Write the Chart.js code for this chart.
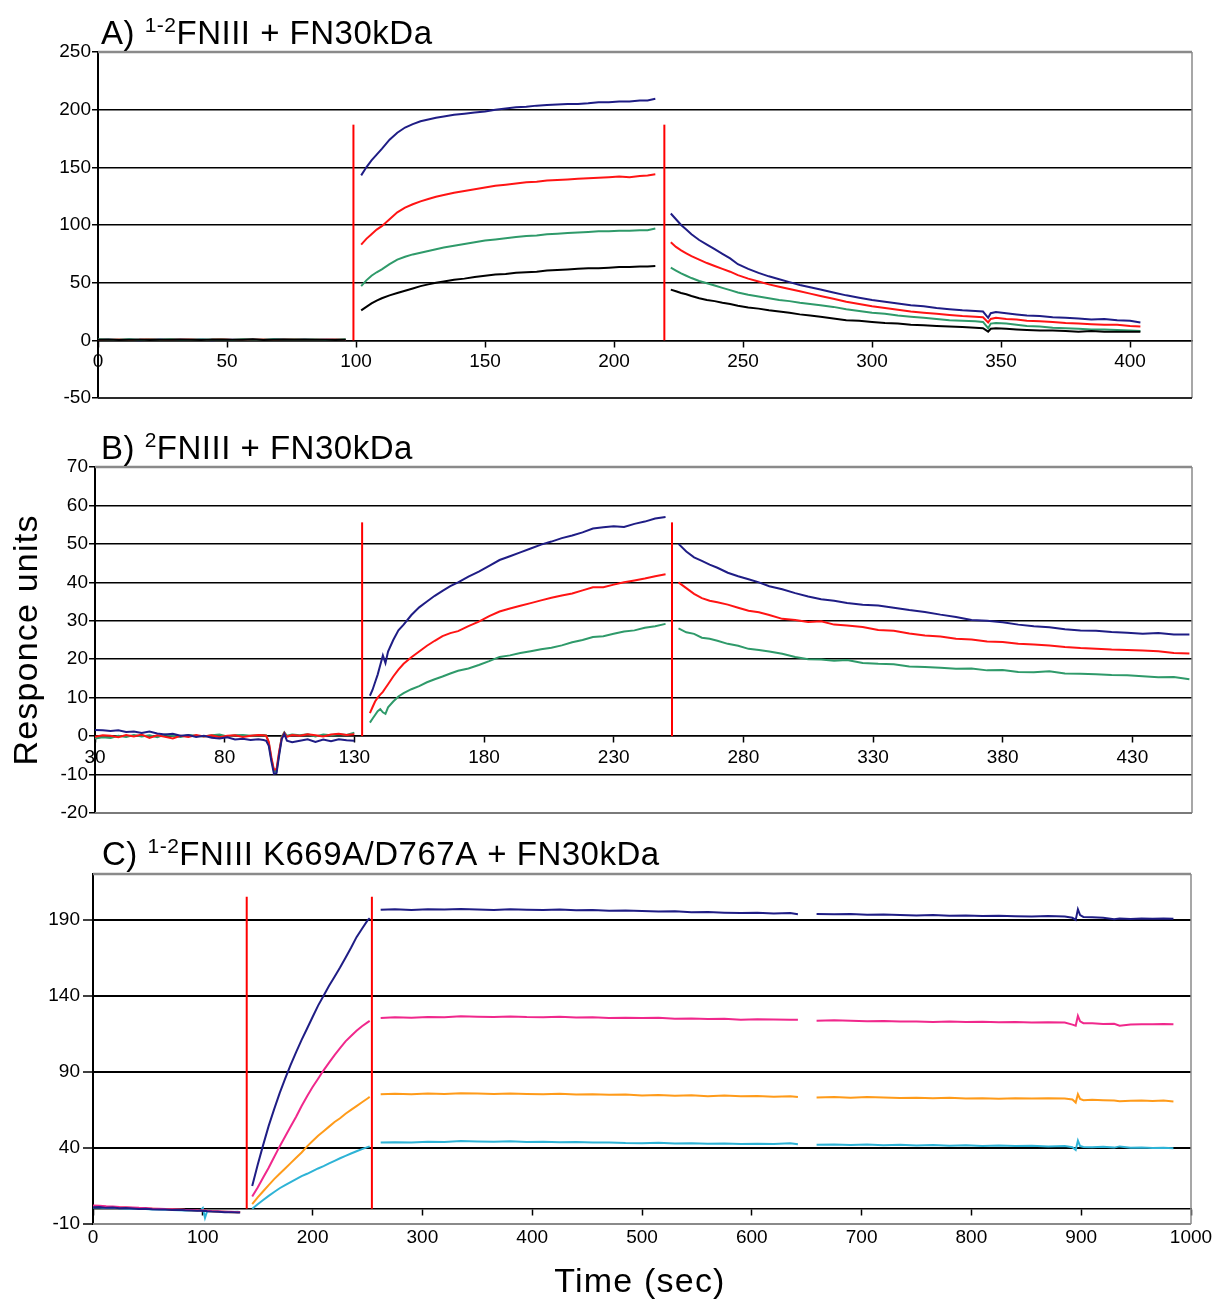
<!DOCTYPE html>
<html>
<head>
<meta charset="utf-8">
<title>FNIII binding to FN30kDa</title>
<script src="https://cdn.jsdelivr.net/npm/chart.js@4.4.1/dist/chart.umd.min.js"></script>
<style>
  html, body { margin: 0; padding: 0; background: #fff; }
  #wrap { position: relative; width: 1215px; height: 1300px; }
  canvas { position: absolute; left: 0; }
  #panelA { top: 0; }
  #panelB { top: 410px; }
  #panelC { top: 820px; }
</style>
</head>
<body>
<div id="wrap">
  <canvas id="panelA" width="1215" height="410"></canvas>
  <canvas id="panelB" width="1215" height="410"></canvas>
  <canvas id="panelC" width="1215" height="480"></canvas>
</div>
<script>
// ---------- panel A: 1-2FNIII + FN30kDa ----------
const aXTicks = [0, 50, 100, 150, 200, 250, 300, 350, 400];
const aYTicks = [-50, 0, 50, 100, 150, 200, 250];
const aMarks = [99, 219.5];
const aMarkTop = 187;

const aTimeBase = [0, 4, 8, 12, 16, 20, 24, 28, 32, 36, 40, 44, 48, 52, 56, 60, 64, 68, 72, 76, 80, 84, 88, 92, 96];
const aBlueBase  = [0.3, 0.5, 0.2, 0.6, 0.1, 0.4, 0.7, 0.2, 0.5, 0.3, 0.8, 0.1, 0.4, 0.6, 0.2, 0.5, 0.3, 0.7, 0.4, 0.2, 0.6, 0.3, 0.5, 0.4, 0.2];
const aRedBase   = [0.6, 0.2, 0.8, 0.3, 0.5, 0.9, 0.2, 0.6, 0.4, 0.7, 0.3, 0.5, 0.9, 0.2, 0.6, 0.4, 0.8, 0.3, 0.5, 0.7, 0.2, 0.6, 0.4, 0.8, 0.5];
const aGreenBase = [0.9, 0.4, 0.6, 1.0, 0.3, 0.7, 0.5, 0.9, 0.2, 0.6, 0.8, 0.4, 0.7, 0.3, 0.9, 0.5, 0.6, 1.0, 0.4, 0.7, 0.5, 0.8, 0.3, 0.6, 0.9];
const aBlackBase = [0.4, 0.7, 0.3, 0.5, 0.8, 0.2, 0.6, 0.4, 0.7, 0.5, 0.3, 0.8, 0.5, 0.4, 0.6, 0.9, 0.3, 0.5, 0.7, 0.4, 0.8, 0.5, 0.6, 0.3, 0.5];

const aTimeBind = [102, 104, 106, 108, 110, 113, 116, 119, 122, 125, 128, 131, 134, 138, 142, 146, 150, 154, 158, 162, 166, 170, 174, 178, 182, 186, 190, 194, 198, 202, 206, 210, 213, 216];
const aBlueBind  = [143, 150, 156, 161, 166, 174, 180, 184.5, 187.5, 190, 191.5, 193, 194, 195.5, 196.5, 197.5, 198.5, 200, 201, 202, 202.5, 203.5, 204, 204.5, 205, 205, 205.5, 206.5, 206.5, 207, 207, 208, 208, 209.5];
const aRedBind   = [83, 88, 92, 96, 99, 105, 111, 115, 118, 120.5, 122.5, 124.5, 126, 128, 129.5, 131, 132.5, 134, 135, 136, 137, 137.5, 138.5, 139, 139.5, 140, 140.5, 141, 141.5, 142, 141.5, 142.5, 143, 144];
const aGreenBind = [47, 52, 56, 59, 61.5, 66, 70, 72.5, 74.5, 76, 77.5, 79, 80.5, 82, 83.5, 85, 86.5, 87.5, 88.5, 89.5, 90.5, 91, 92, 92.5, 93, 93.5, 94, 94.5, 94.5, 95, 95, 95.5, 95.5, 97];
const aBlackBind = [26, 29, 32, 34.5, 36.5, 39, 41, 43, 45, 47, 48.5, 50, 51, 52.5, 53.5, 55, 56, 57, 57.5, 58.5, 59, 59.5, 60.5, 61, 61.5, 62, 62.5, 62.5, 63, 63.5, 63.5, 64, 64, 64.5];

const aTimeRel = [222, 224, 226, 228, 230, 233, 236, 239, 242, 245, 248, 252, 256, 260, 264, 268, 272, 276, 280, 285, 290, 295, 300, 305, 310, 315, 320, 325, 330, 335, 340, 343, 345, 346, 348, 352, 356, 360, 365, 370, 375, 380, 385, 390, 395, 400, 404];
const aBlueRel  = [110, 105, 100, 96, 92, 87, 83, 79, 75, 71, 66, 62, 58.5, 55.5, 53, 50.5, 48, 46, 44, 41.5, 39, 37, 35, 33.5, 32, 30.5, 29.5, 28, 27, 26, 25.5, 25, 19.5, 23.5, 24.5, 23.5, 22.5, 21.5, 21, 20, 19.5, 19, 18, 18.5, 17.5, 17, 15.5];
const aRedRel   = [85, 81, 78, 75.5, 73, 70, 67, 64.5, 62, 59.5, 56.5, 53.5, 51, 48.5, 46.5, 44.5, 42.5, 40.5, 38.5, 36, 33.5, 31.5, 29.5, 28, 26.5, 25, 24, 23, 22, 21, 20.5, 20, 15.5, 18.5, 19.5, 18.5, 18, 17, 16.5, 16, 15, 14.5, 14, 13.5, 13.5, 12.5, 12];
const aGreenRel = [63, 60.5, 58, 56, 54, 51.5, 49.5, 47.5, 45.5, 43.5, 41.5, 39.5, 38, 36.5, 35, 34, 32.5, 31.5, 30.5, 29, 27, 25.5, 24, 23, 21.5, 20.5, 19.5, 18.5, 17.5, 17, 16.5, 16, 10.5, 14.5, 15, 14.5, 13.5, 12.5, 12, 11, 10.5, 10, 9.5, 9.5, 9, 8.5, 8];
const aBlackRel = [44, 42.5, 41, 40, 38.5, 36.5, 35, 34, 32.5, 31.5, 30, 28.5, 27.5, 26, 25, 24, 22.5, 21.5, 20.5, 19, 17.5, 17, 16, 15, 14.5, 13.5, 13, 12.5, 12, 11.5, 11, 10.5, 7.5, 10, 10.5, 10, 9.5, 9, 8.5, 8.5, 8, 7.5, 8, 7.5, 7.5, 7.5, 7.5];

// ---------- panel B: 2FNIII + FN30kDa ----------
const bXTicks = [30, 80, 130, 180, 230, 280, 330, 380, 430];
const bYTicks = [-20, -10, 0, 10, 20, 30, 40, 50, 60, 70];
const bMarks = [133, 252.5];
const bMarkTop = 55.6;

const bTimeBase = [30, 33, 36, 39, 42, 45, 48, 51, 54, 57, 60, 63, 66, 69, 72, 75, 78, 81, 84, 87, 90, 93, 95, 96, 97, 98, 99, 100, 101, 102, 103, 104, 106, 109, 112, 115, 118, 121, 124, 127, 130];
const bBlueBase  = [1.6, 1.5, 1.3, 1.5, 1.1, 1.2, 0.8, 1.2, 0.7, 0.4, 0.6, 0.1, 0.3, -0.2, 0.1, -0.4, -0.6, -0.3, -0.9, -0.7, -1.0, -0.8, -1.0, -1.2, -2.5, -6.5, -9.8, -9.6, -5, -0.8, 0.6, -1.2, -1.6, -1.2, -0.8, -1.5, -0.9, -1.3, -0.8, -1.1, -1.2];
const bRedBase   = [-0.2, 0.2, 0.1, -0.3, 0.3, -0.1, 0.4, -0.5, 0.2, -0.2, -0.6, 0.1, -0.2, 0.3, -0.1, 0.2, -0.3, 0.1, 0.2, -0.2, 0.1, 0.3, 0.2, 0.1, -1.5, -5.5, -8.8, -8.5, -4, -0.5, 0.8, -0.2, 0.3, 0.1, 0.5, 0.2, -0.1, 0.4, 0.6, 0.3, 0.5];
const bGreenBase = [-0.6, -0.3, -0.5, 0.1, -0.2, 0.3, -0.1, 0.2, -0.3, 0.4, 0.1, -0.2, 0.3, 0.1, -0.1, 0.2, 0.4, -0.1, 0.2, 0.3, 0.1, 0.2, 0.3, 0.2, -1.8, -6, -9, -9.2, -4.5, -0.2, 1.0, 0.1, 0.4, 0.2, 0.5, -0.1, 0.4, 0.2, 0.5, 0.3, 0.9];

const bTimeBind = [136, 137, 138, 139, 140, 141, 142, 143, 145, 147, 149, 152, 155, 158, 161, 164, 167, 170, 174, 178, 182, 186, 190, 194, 198, 202, 206, 210, 214, 218, 222, 226, 230, 234, 238, 242, 246, 250];
const bBlueBind  = [10.5, 12, 14, 16, 18.5, 21, 19, 22, 25, 27.5, 29, 31.5, 33.5, 35, 36.5, 37.8, 39, 40, 41.5, 42.8, 44.3, 45.8, 46.8, 47.8, 48.8, 49.8, 50.6, 51.5, 52.2, 53, 54, 54.3, 54.6, 54.4, 55.2, 55.8, 56.6, 57];
const bRedBind   = [6, 7.5, 9, 10, 10.8, 11.5, 12.5, 13.5, 15.5, 17.3, 18.8, 20.5, 22, 23.5, 24.8, 26, 26.8, 27.3, 28.6, 29.8, 31.2, 32.4, 33.2, 33.9, 34.6, 35.3, 36, 36.6, 37.1, 37.9, 38.7, 38.7, 39.4, 40, 40.5, 41, 41.6, 42.1];
const bGreenBind = [3.5, 4.5, 5.5, 6.5, 7, 6.2, 5.8, 7.5, 9, 10.3, 11.2, 12.2, 13, 14, 14.8, 15.5, 16.3, 17, 17.6, 18.5, 19.5, 20.6, 21, 21.6, 22.1, 22.6, 23, 23.6, 24.4, 25, 25.8, 26, 26.6, 27.2, 27.5, 28.2, 28.6, 29.2];

const bTimeRel = [255, 258, 261, 264, 267, 270, 274, 278, 282, 286, 290, 295, 300, 305, 310, 315, 320, 326, 332, 338, 344, 350, 356, 362, 368, 374, 380, 386, 392, 398, 404, 410, 416, 422, 428, 434, 440, 446, 452];
const bBlueRel  = [50, 48, 46.5, 45.6, 44.6, 43.8, 42.5, 41.6, 40.8, 40, 39, 38.2, 37.2, 36.3, 35.6, 35.2, 34.6, 34.2, 34, 33.4, 32.8, 32.3, 31.6, 31, 30.2, 30, 29.6, 29, 28.6, 28.3, 27.8, 27.5, 27.4, 27.1, 26.9, 26.6, 26.8, 26.4, 26.4];
const bRedRel   = [40, 38.5, 37, 35.9, 35.2, 34.8, 34.2, 33.4, 32.6, 32.2, 31.5, 30.5, 30.2, 29.7, 29.9, 29, 28.8, 28.4, 27.6, 27.4, 26.7, 26.2, 25.9, 25.3, 25.1, 24.6, 24.5, 24, 23.8, 23.6, 23.2, 22.9, 22.7, 22.5, 22.4, 22.3, 22.1, 21.6, 21.5];
const bGreenRel = [28, 27, 26.6, 25.6, 25.3, 24.8, 24, 23.5, 22.7, 22.4, 22, 21.4, 20.6, 20, 19.9, 19.6, 19.8, 19, 18.8, 18.7, 18.1, 18, 17.8, 17.5, 17.6, 17.1, 17.2, 16.7, 16.6, 16.9, 16.3, 16.2, 16.1, 15.9, 15.8, 15.6, 15.3, 15.4, 14.8];

// ---------- panel C: 1-2FNIII K669A/D767A + FN30kDa ----------
const cXTicks = [0, 100, 200, 300, 400, 500, 600, 700, 800, 900, 1000];
const cYTicks = [-10, 40, 90, 140, 190];
const cMarks = [140, 254];
const cMarkTop = 205;

const cTimeBase = [0, 6, 12, 18, 24, 30, 36, 42, 48, 54, 60, 66, 72, 78, 84, 90, 95, 98, 100, 102, 104, 108, 114, 120, 126, 132, 134];
const cBlueBase   = [1.0, 1.2, 0.6, 0.8, 0.4, 0.5, 0.2, -0.1, 0.1, -0.3, -0.5, -0.4, -0.8, -0.6, -1.0, -1.1, -1.3, -1.2, -1.5, -1.3, -1.6, -1.8, -2.0, -2.3, -2.2, -2.5, -2.4];
const cPinkBase   = [2.2, 2.0, 1.7, 1.5, 1.2, 1.0, 0.8, 0.6, 0.5, 0.2, 0.1, -0.2, -0.3, -0.5, -0.7, -0.8, -1.0, -1.1, -1.2, -1.1, -1.3, -1.5, -1.7, -1.9, -2.0, -2.2, -2.1];
const cOrangeBase = [1.4, 1.5, 1.1, 1.2, 0.8, 0.9, 0.5, 0.4, 0.2, 0.1, -0.2, -0.1, -0.5, -0.4, -0.8, -0.9, -1.0, -1.2, -1.3, -1.2, -1.4, -1.6, -1.9, -2.0, -2.2, -2.1, -2.3];
const cCyanBase   = [0.8, 0.9, 0.5, 0.6, 0.3, 0.2, 0.0, -0.2, -0.1, -0.4, -0.5, -0.6, -0.8, -0.9, -1.1, -1.2, -1.3, -1.0, 0.5, -6, -1.5, -1.6, -1.8, -1.9, -2.1, -2.0, -2.2];

const cTimeBind = [145, 150, 155, 160, 165, 170, 175, 180, 185, 190, 195, 200, 205, 210, 215, 220, 225, 230, 235, 240, 245, 250, 252];
const cBlueBind   = [15, 29, 42, 54.5, 65.5, 76, 85.5, 94.5, 103, 111, 118.5, 126, 133.5, 140, 146.5, 152.5, 158.5, 165, 171.5, 178.5, 184, 189.5, 191];
const cPinkBind   = [8, 14, 20.5, 27, 34, 41, 47.5, 54, 60.5, 67.5, 74, 80, 85.5, 91, 96, 101, 105.5, 110, 113.5, 117, 120, 122.5, 123.5];
const cOrangeBind = [3, 7.5, 11.5, 15.5, 19.5, 23, 26.5, 30, 33.5, 37, 41, 44.5, 48, 51, 54, 57, 59.5, 62.5, 65, 67.5, 70, 72.5, 73.5];
const cCyanBind   = [0, 3, 5.8, 8.5, 11, 13.5, 15.5, 17.5, 19.5, 21.5, 23, 24.8, 26.5, 28, 29.8, 31.5, 33.2, 34.8, 36.3, 37.8, 39.2, 40.5, 41];

const cTimeRel1 = [262, 275, 290, 305, 320, 335, 350, 365, 380, 395, 410, 425, 440, 455, 470, 485, 500, 515, 530, 545, 560, 575, 590, 605, 620, 635, 642];
const cBlueRel1   = [196.5, 196.8, 196.4, 196.9, 196.6, 197, 196.7, 196.4, 196.8, 196.5, 196.3, 196.6, 196.2, 196.4, 195.9, 196, 195.7, 195.3, 195.5, 194.9, 195, 194.6, 194.4, 194.5, 194.1, 194.3, 193.6];
const cPinkRel1   = [125.3, 125.8, 125.5, 126.1, 125.9, 126.6, 126.2, 126, 126.4, 126, 125.9, 126.2, 125.7, 125.8, 125.4, 125.6, 125.3, 125.5, 124.9, 125.1, 124.7, 124.9, 124.3, 124.6, 124.4, 124.3, 124.3];
const cOrangeRel1 = [75.3, 75.6, 75.2, 75.8, 75.5, 75.9, 75.7, 75.4, 75.8, 75.5, 75.3, 75.6, 75.1, 75.3, 74.9, 75.1, 74.5, 74.8, 74.3, 74.6, 74, 74.4, 73.9, 74.1, 73.7, 73.9, 73.4];
const cCyanRel1   = [43.5, 43.8, 43.6, 44.1, 43.9, 44.6, 44.2, 44, 44.3, 43.9, 44, 43.7, 43.9, 43.5, 43.6, 43.2, 43.1, 43.4, 42.9, 43.1, 42.7, 42.9, 42.6, 42.8, 42.5, 43, 42.4];

const cTimeRel2 = [659, 675, 690, 705, 720, 735, 750, 765, 780, 795, 810, 825, 840, 855, 870, 885, 892, 895, 897, 899, 902, 910, 920, 930, 935, 945, 955, 965, 975, 984];
const cBlueRel2   = [193.7, 193.5, 193.7, 193.2, 193.4, 193, 192.8, 193.1, 192.6, 192.8, 192.4, 192.6, 192.3, 192.1, 192.4, 192, 191.2, 189.8, 196.8, 193, 191.8, 191.6, 191.2, 190.2, 190.8, 190.5, 190.7, 190.6, 190.8, 190.6];
const cPinkRel2   = [123.6, 123.9, 123.5, 123.2, 123.4, 123, 123.1, 122.8, 123, 122.7, 122.9, 122.5, 122.8, 122.4, 122.6, 122.4, 121, 120.3, 126.8, 123.2, 122, 121.9, 121.5, 121.6, 120.3, 121.1, 121.3, 121.2, 121.5, 121.3];
const cOrangeRel2 = [73.1, 73.4, 73, 73.5, 73.1, 72.8, 73, 72.6, 72.9, 72.5, 72.7, 72.3, 72.6, 72.4, 72.7, 72.5, 71.8, 69.8, 75.3, 72.2, 71.3, 71.6, 71.4, 71.1, 70.6, 71, 71.2, 70.8, 71.1, 70.5];
const cCyanRel2   = [42, 42.3, 41.9, 42.2, 41.8, 42, 41.6, 41.9, 41.5, 41.7, 41.3, 41.6, 41.2, 41.4, 41, 41.2, 40.4, 38.7, 44.8, 41.2, 40.6, 40.5, 40.8, 40.2, 41, 40.1, 40.3, 39.9, 40.1, 39.8];

// ---------- colours ----------
const NAVY = '#1f1d85';
const RED = '#ff1414';
const GREEN = '#2f9a6a';
const BLACK = '#000000';
const PINK = '#f0288c';
const ORANGE = '#ff9b1a';
const CYAN = '#2eb3d6';
const MARK = '#ff0000';

const FONT = "'Liberation Sans', Arial, Helvetica, sans-serif";
Chart.defaults.font.family = FONT;
Chart.defaults.color = '#000';

// join the phases of one sensorgram, leaving a gap between them
function trace(phases) {
  const pts = [];
  phases.forEach(([times, vals], i) => {
    if (i > 0) pts.push({ x: times[0], y: null });
    times.forEach((t, k) => pts.push({ x: t, y: vals[k] }));
  });
  return pts;
}

function curve(data, color) {
  return { data, borderColor: color, borderWidth: 2, pointRadius: 0, tension: 0, spanGaps: false, fill: false };
}

function markers(times, top) {
  return times.map(t => ({
    data: [{ x: t, y: 0 }, { x: t, y: top }],
    borderColor: MARK, borderWidth: 2, pointRadius: 0, fill: false
  }));
}

// grey frame on top / right / bottom of the plot area
const plotFrame = {
  id: 'plotFrame',
  beforeDatasetsDraw(chart, args, opts) {
    const { ctx, chartArea: a } = chart;
    ctx.save();
    ctx.strokeStyle = '#8a8a8a';
    ctx.lineWidth = 2.5;
    ctx.beginPath();
    ctx.moveTo(a.left, a.top);
    ctx.lineTo(a.right, a.top);
    ctx.stroke();
    ctx.lineWidth = 1.5;
    ctx.beginPath();
    ctx.moveTo(a.right, a.top);
    ctx.lineTo(a.right, a.bottom);
    ctx.stroke();
    ctx.strokeStyle = opts.bottomColor || '#6a6a6a';
    ctx.lineWidth = 2;
    ctx.beginPath();
    ctx.moveTo(a.left, a.bottom);
    ctx.lineTo(a.right, a.bottom);
    ctx.stroke();
    ctx.restore();
  }
};

// panel titles with superscripts, and the shared axis titles
const panelText = {
  id: 'panelText',
  afterDraw(chart, args, opts) {
    const ctx = chart.ctx;
    (opts.items || []).forEach(item => {
      ctx.save();
      ctx.fillStyle = '#000';
      ctx.textBaseline = 'alphabetic';
      if ('letterSpacing' in ctx) ctx.letterSpacing = (item.spacing || 0) + 'px';
      if (item.rotate) {
        ctx.translate(item.x, item.y);
        ctx.rotate(item.rotate);
        ctx.textAlign = 'center';
        ctx.textBaseline = 'middle';
        ctx.font = item.size + 'px ' + FONT;
        ctx.fillText(item.text, 0, 0);
      } else if (item.parts) {
        let x = item.x;
        item.parts.forEach(([text, size, rise]) => {
          ctx.font = size + 'px ' + FONT;
          ctx.fillText(text, x, item.y - rise);
          x += ctx.measureText(text).width;
        });
      } else {
        ctx.textAlign = 'center';
        ctx.font = item.size + 'px ' + FONT;
        ctx.fillText(item.text, item.x, item.y);
      }
      ctx.restore();
    });
  }
};

function tickSetter(values) {
  return scale => { scale.ticks = values.map(v => ({ value: v })); };
}

function panel(id, p) {
  return new Chart(document.getElementById(id), {
    type: 'line',
    data: { datasets: p.datasets },
    plugins: [plotFrame, panelText],
    options: {
      responsive: false,
      animation: false,
      events: [],
      layout: { autoPadding: false, padding: p.padding },
      plugins: {
        legend: { display: false },
        tooltip: { enabled: false },
        plotFrame: { bottomColor: p.bottomColor },
        panelText: { items: p.text }
      },
      scales: {
        x: {
          type: 'linear',
          min: p.xMin, max: p.xMax,
          position: { y: 0 },
          afterBuildTicks: tickSetter(p.xTicks),
          afterFit: s => { s.paddingLeft = 0; s.paddingRight = 0; },
          grid: { drawOnChartArea: false, tickLength: 6, tickColor: '#000', tickWidth: 1.5 },
          border: { color: '#000', width: 1.5 },
          ticks: { font: { size: 19 }, padding: p.xPad, maxRotation: 0, autoSkip: false, color: '#000',
                   callback: v => String(v) }
        },
        y: {
          type: 'linear',
          min: p.yMin, max: p.yMax,
          afterBuildTicks: tickSetter(p.yTicks),
          afterFit: s => { s.width = p.yWidth; s.paddingTop = 0; s.paddingBottom = 0; },
          grid: {
            color: ctx => (ctx.tick && (ctx.tick.value === p.yMin || ctx.tick.value === p.yMax)) ? 'rgba(0,0,0,0)' : '#000',
            lineWidth: p.gridWidth,
            tickLength: p.yTickLen,
            tickColor: '#000',
            tickWidth: 1.5
          },
          border: { color: '#000', width: 2 },
          ticks: { font: { size: 19 }, padding: p.yPad, autoSkip: false, color: '#000',
                   callback: v => String(v) }
        }
      }
    }
  });
}

panel('panelA', {
  xMin: 0, xMax: 424, yMin: -50, yMax: 250,
  xTicks: aXTicks, yTicks: aYTicks,
  padding: { top: 52, right: 23, bottom: 12, left: 0 },
  yWidth: 98, yTickLen: 6, yPad: 1, xPad: 4, gridWidth: 1.5, bottomColor: '#2a2a2a',
  datasets: [
    ...markers(aMarks, aMarkTop),
    curve(trace([[aTimeBase, aBlackBase], [aTimeBind, aBlackBind], [aTimeRel, aBlackRel]]), BLACK),
    curve(trace([[aTimeBase, aGreenBase], [aTimeBind, aGreenBind], [aTimeRel, aGreenRel]]), GREEN),
    curve(trace([[aTimeBase, aRedBase], [aTimeBind, aRedBind], [aTimeRel, aRedRel]]), RED),
    curve(trace([[aTimeBase, aBlueBase], [aTimeBind, aBlueBind], [aTimeRel, aBlueRel]]), NAVY)
  ],
  text: [
    { x: 101, y: 44, spacing: 0.5, parts: [['A) ', 33, 0], ['1-2', 21, 12], ['FNIII + FN30kDa', 33, 0]] }
  ]
});

panel('panelB', {
  xMin: 30, xMax: 453, yMin: -20, yMax: 70,
  xTicks: bXTicks, yTicks: bYTicks,
  padding: { top: 57, right: 23, bottom: 7, left: 0 },
  yWidth: 95, yTickLen: 6, yPad: 1, xPad: 4, gridWidth: 1.5, bottomColor: '#7a7a7a',
  datasets: [
    ...markers(bMarks, bMarkTop),
    curve(trace([[bTimeBase, bBlueBase], [bTimeBind, bBlueBind], [bTimeRel, bBlueRel]]), NAVY),
    curve(trace([[bTimeBase, bRedBase], [bTimeBind, bRedBind], [bTimeRel, bRedRel]]), RED),
    curve(trace([[bTimeBase, bGreenBase], [bTimeBind, bGreenBind], [bTimeRel, bGreenRel]]), GREEN)
  ],
  text: [
    { x: 101, y: 49, spacing: 0.5, parts: [['B) ', 33, 0], ['2', 21, 12], ['FNIII + FN30kDa', 33, 0]] },
    { x: 28, y: 230, size: 34, spacing: 1.2, rotate: -Math.PI / 2, text: 'Responce units' }
  ]
});

panel('panelC', {
  xMin: 0, xMax: 1000, yMin: -10, yMax: 220,
  xTicks: cXTicks, yTicks: cYTicks,
  padding: { top: 54, right: 24, bottom: 76, left: 0 },
  yWidth: 93, yTickLen: 10, yPad: 3, xPad: 12, gridWidth: 2, bottomColor: '#8a8a8a',
  datasets: [
    ...markers(cMarks, cMarkTop),
    curve(trace([[cTimeBase, cBlueBase], [cTimeBind, cBlueBind], [cTimeRel1, cBlueRel1], [cTimeRel2, cBlueRel2]]), NAVY),
    curve(trace([[cTimeBase, cPinkBase], [cTimeBind, cPinkBind], [cTimeRel1, cPinkRel1], [cTimeRel2, cPinkRel2]]), PINK),
    curve(trace([[cTimeBase, cOrangeBase], [cTimeBind, cOrangeBind], [cTimeRel1, cOrangeRel1], [cTimeRel2, cOrangeRel2]]), ORANGE),
    curve(trace([[cTimeBase, cCyanBase], [cTimeBind, cCyanBind], [cTimeRel1, cCyanRel1], [cTimeRel2, cCyanRel2]]), CYAN)
  ],
  text: [
    { x: 102, y: 45, spacing: 0.5, parts: [['C) ', 33, 0], ['1-2', 21, 12], ['FNIII K669A/D767A + FN30kDa', 33, 0]] },
    { x: 640, y: 472, size: 34, spacing: 1.2, text: 'Time (sec)' }
  ]
});
</script>
</body>
</html>
